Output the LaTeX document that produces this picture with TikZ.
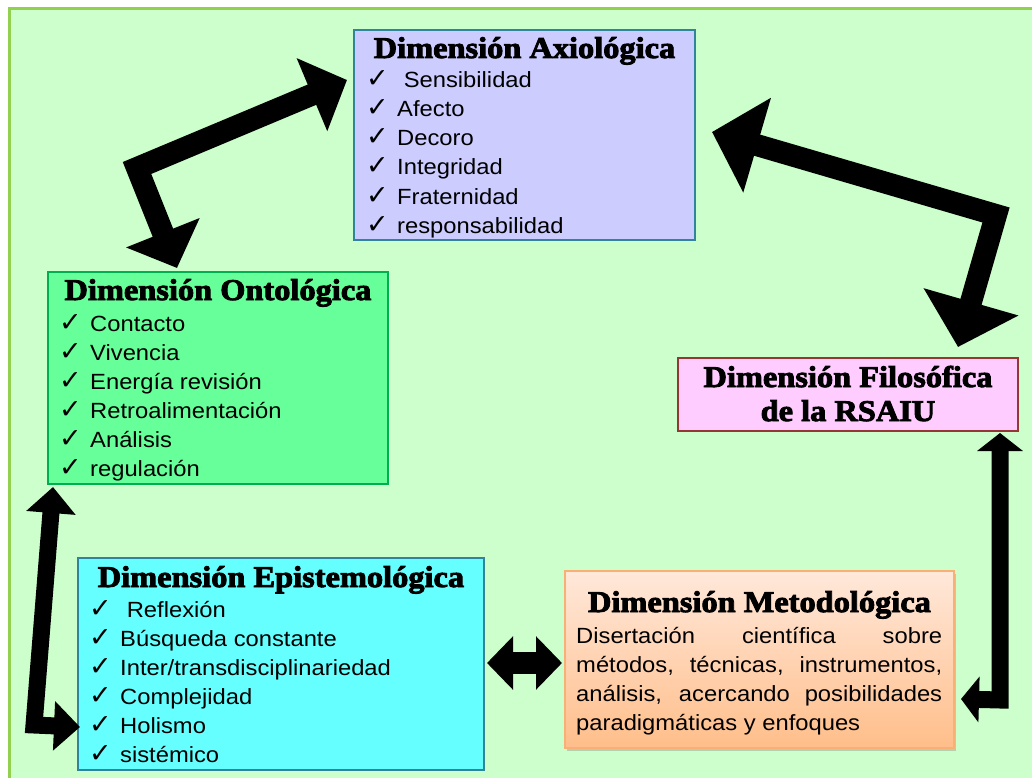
\documentclass[tikz,border=0pt]{standalone}
\usepackage{fontspec}
\setmainfont{Liberation Sans}
\newfontfamily\titlefont[FakeStretch=1.08,FakeBold=3]{Liberation Serif}
\newfontfamily\itemfont[FakeStretch=1.08]{Liberation Sans}
\newfontfamily\checkfont{DejaVu Sans}
\usetikzlibrary{arrows.meta,calc,shadows}
\definecolor{bgfill}{HTML}{CCFFCC}
\definecolor{bgline}{HTML}{92D050}
\definecolor{axfill}{HTML}{CCCCFF}
\definecolor{blueline}{HTML}{31849B}
\definecolor{onfill}{HTML}{66FF99}
\definecolor{online}{HTML}{00B050}
\definecolor{epfill}{HTML}{66FFFF}
\definecolor{metop}{HTML}{FFE8DA}
\definecolor{mebot}{HTML}{FFBE8A}
\definecolor{meline}{HTML}{F9B074}
\definecolor{fifill}{HTML}{FFCCFF}
\definecolor{filine}{HTML}{953735}
\newcommand\mychk{\makebox[31pt][l]{\checkfont\fontsize{27}{27}\selectfont ✓}}
\begin{document}
\begin{tikzpicture}[x=1pt,y=-1pt,
  box/.style={draw, line width=2pt, anchor=north west, inner sep=0pt, outer sep=0pt},
  ttl/.style={anchor=base, inner sep=0pt, font=\titlefont\bfseries\fontsize{30}{30}\selectfont},
  itm/.style={anchor=base west, inner sep=0pt, font=\itemfont\fontsize{22}{22}\selectfont},
  bigarrow/.style={line width=22pt, line join=miter, {Triangle[length=38pt,width=77pt]}-{Triangle[length=38pt,width=77pt]}},
  widearrow/.style={line width=22pt, line join=miter, {Triangle[length=47pt,width=96pt]}-{Triangle[length=47pt,width=96pt]}},
  thinarrow/.style={line width=17pt, line join=miter, {Triangle[length=26pt,width=48pt]}-{Triangle[length=26pt,width=48pt]}},
  rightarrow/.style={line width=17pt, line join=miter, {Triangle[length=18pt,width=45pt]}-{Triangle[length=18pt,width=45pt]}},
  shortarrow/.style={line width=22pt, {Triangle[length=26pt,width=52pt]}-{Triangle[length=26pt,width=52pt]}}
]
\useasboundingbox (0,0) rectangle (1032,778);
\fill[white] (0,0) rectangle (1032,778);
\fill[bgfill] (9,9) rectangle (1040,790);
\draw[bgline, line width=3pt] (9,790) -- (9,9) -- (1040,9);

% boxes
\node[box, draw=blueline, fill=axfill, minimum width=341pt, minimum height=210pt] (axio) at (354,30) {};
\node[box, draw=online, fill=onfill, minimum width=340pt, minimum height=212pt] (onto) at (48,272) {};
\node[box, draw=blueline, fill=epfill, minimum width=406pt, minimum height=212pt] (epis) at (78,558) {};
\node[box, draw=meline, top color=metop, bottom color=mebot, minimum width=389pt, minimum height=177pt,
      drop shadow={shadow xshift=2pt, shadow yshift=-3pt, opacity=0.35}] (meto) at (565,571) {};
\node[box, draw=filine, fill=fifill, minimum width=340pt, minimum height=73pt] (filo) at (678,358) {};

% titles
\node[ttl] (axio-t) at ($(axio.north)+(0,28)$) {Dimensión Axiológica};
\node[ttl] (onto-t) at ($(onto.north)+(0,28)$) {Dimensión Ontológica};
\node[ttl] (epis-t) at ($(epis.north)+(0,29)$) {Dimensión Epistemológica};
\node[ttl] (meto-t) at ($(meto.north)+(0,41)$) {Dimensión Metodológica};
\node[ttl] (filo-t1) at ($(filo.north)+(0,29)$) {Dimensión Filosófica};
\node[ttl] (filo-t2) at ($(filo.north)+(0,63)$) {de la RSAIU};

% lists
\foreach \t [count=\i from 0] in {{\ Sensibilidad},Afecto,Decoro,Integridad,Fraternidad,responsabilidad}
  \node[itm] (ax\i) at ($(axio.north west)+(12,58+29*\i)$) {\mychk\t};
\foreach \t [count=\i from 0] in {Contacto,Vivencia,{Energía revisión},Retroalimentación,Análisis,regulación}
  \node[itm] (on\i) at ($(onto.north west)+(11,59+29*\i)$) {\mychk\t};
\foreach \t [count=\i from 0] in {{\ Reflexión},{Búsqueda constante},Inter/transdisciplinariedad,Complejidad,Holismo,sistémico}
  \node[itm] (ep\i) at ($(epis.north west)+(11,59+29*\i)$) {\mychk\t};

\node[itm] (me0) at ($(meto.north west)+(11,72)$) {\makebox[366pt][s]{Disertación científica sobre}};
\node[itm] (me1) at ($(meto.north west)+(11,101)$) {\makebox[366pt][s]{métodos, técnicas, instrumentos,}};
\node[itm] (me2) at ($(meto.north west)+(11,130)$) {\makebox[366pt][s]{análisis, acercando posibilidades}};
\node[itm] (me3) at ($(meto.north west)+(11,159)$) {paradigmáticas y enfoques};

% connectors
\coordinate (b1) at (137,168);
\draw[bigarrow] ($(axio.north west)+(-7,50)$) -- (b1) -- ($(onto.north west)+(129,-4)$);
\coordinate (b2) at (996,215);
\draw[widearrow] ($(axio.north east)+(17,102)$) -- (b2) -- ($(filo.north west)+(280,-11)$);
\coordinate (b3) at (34,725);
\draw[thinarrow] ($(onto.south west)+(5,3)$) -- (b3) -- ($(epis.north west)+(2,169)$);
\coordinate (b4) at (1000,700);
\draw[rightarrow] ($(filo.south east)+(-18,2)$) -- (b4) -- ($(meto.north east)+(7,128)$);
\draw[shortarrow] ($(epis.north east)+(3,105)$) -- ($(meto.north west)+(-3,92)$);
\end{tikzpicture}
\end{document}
